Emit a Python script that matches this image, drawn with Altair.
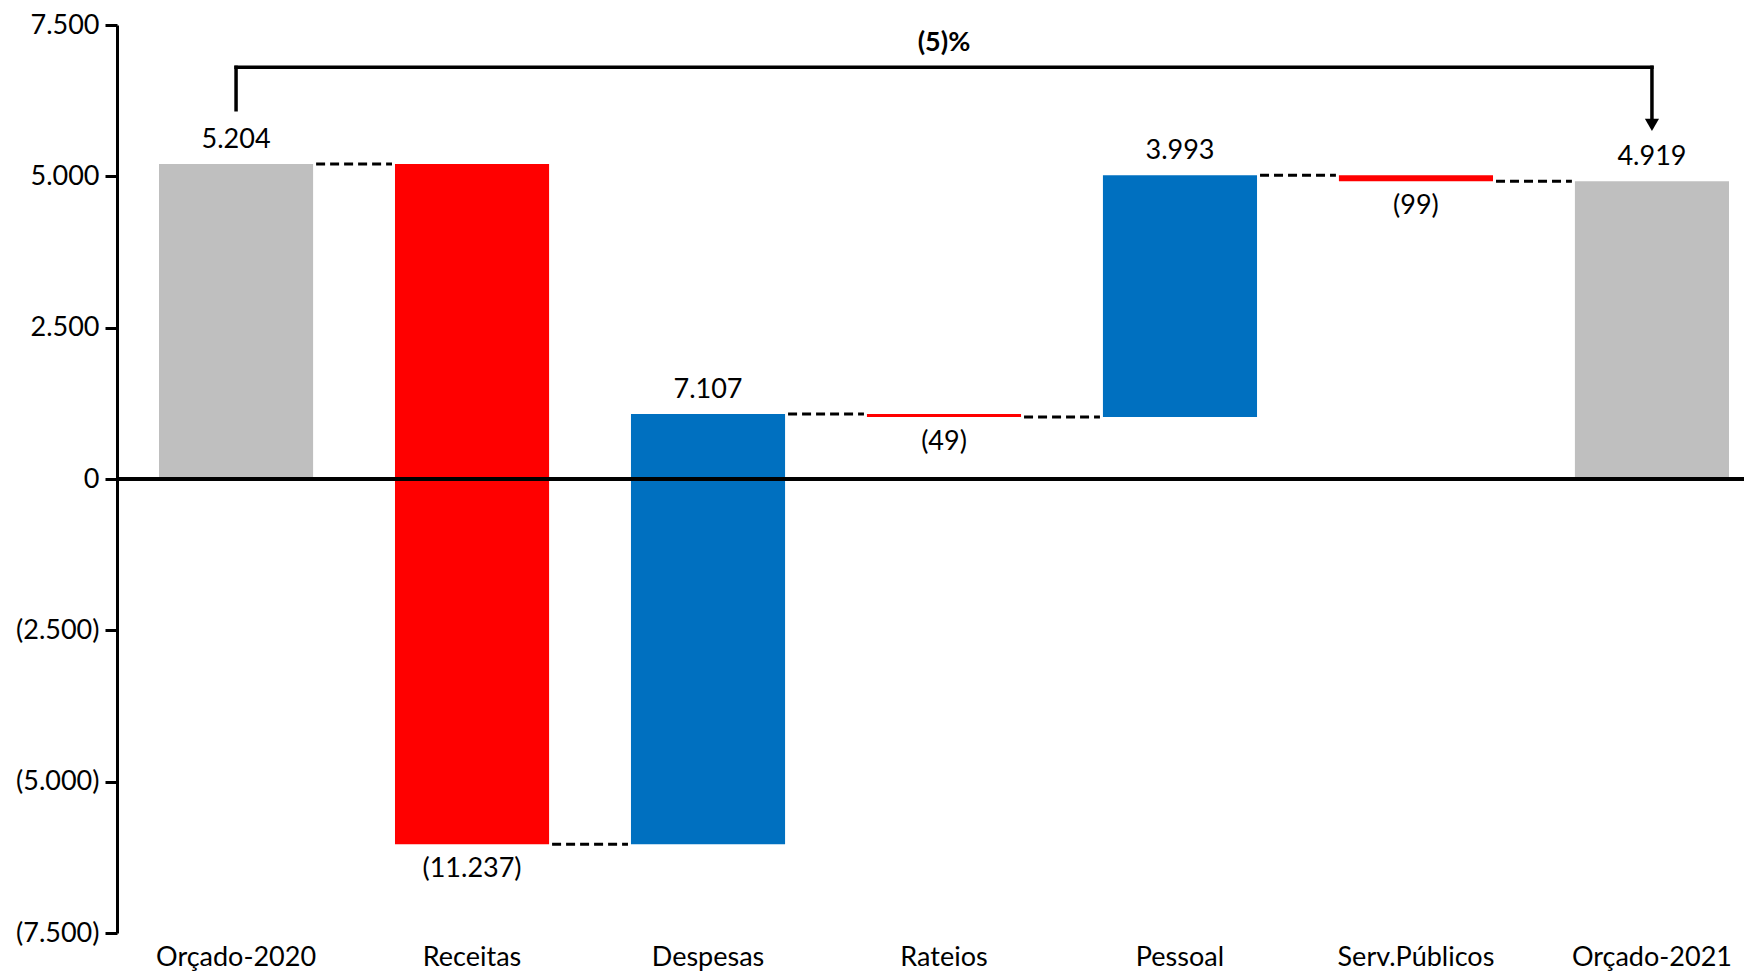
import altair as alt
import pandas as pd

# ---- data ----
categories = ["Orçado-2020", "Receitas", "Despesas", "Rateios", "Pessoal", "Serv.Públicos", "Orçado-2021"]
amounts = [5204, -11237, 7107, -49, 3993, -99, 4919]
kinds = ["total", "delta", "delta", "delta", "delta", "delta", "total"]
y_ticks = [-7500, -5000, -2500, 0, 2500, 5000, 7500]

COLORS = {"total": "#BFBFBF", "pos": "#0070C0", "neg": "#FF0000"}
FONT = "Lato"
FS = 27


def fmt(v):
    s = f"{abs(v):,}".replace(",", ".")
    return f"({s})" if v < 0 else s


rows = []
running = 0
for c, a, k in zip(categories, amounts, kinds):
    if k == "total":
        start, end = 0, a
        kind = "total"
    else:
        start, end = running, running + a
        kind = "pos" if a > 0 else "neg"
    running = end
    rows.append(dict(cat=c, start=start, end=end, label=fmt(a), kind=kind,
                     above=(a >= 0)))
bars = pd.DataFrame(rows)

conn = pd.DataFrame({
    "cat": categories[:-1],
    "nxt": categories[1:],
    "level": [r["end"] for r in rows[:-1]],
})

pct = round((amounts[-1] - amounts[0]) / amounts[0] * 100)
pct_label = f"({abs(pct)})%" if pct < 0 else f"{pct}%"

bracket_top = 6800
bracket = pd.DataFrame({
    "a": [categories[0], categories[0], categories[-1]],
    "b": [categories[0], categories[-1], categories[-1]],
    "y1": [6100, bracket_top, bracket_top],
    "y2": [bracket_top, bracket_top, 5870],
})
arrow = pd.DataFrame({"cat": [categories[-1]], "y": [5850]})
pct_df = pd.DataFrame({"cat": [categories[3]], "y": [7195], "label": [pct_label]})

xscale = alt.Scale(domain=categories, range=[0, 1654], paddingInner=0.347, paddingOuter=0.178)
yscale = alt.Scale(domain=[-7500, 7500], nice=False, zero=False)

x_axis = alt.Axis(title=None, labelAngle=0, domain=False, ticks=False, labelPadding=11,
                  labelFontSize=FS, labelFont=FONT, labelColor="black")
y_axis = alt.Axis(title=None, values=y_ticks, grid=False, domainColor="black", domainWidth=3,
                  tickColor="black", tickWidth=3, tickSize=12, labelPadding=6,
                  labelFontSize=FS, labelFont=FONT, labelColor="black",
                  labelExpr="datum.value < 0 ? '(' + replace(format(-datum.value, ','), ',', '.') + ')' : replace(format(datum.value, ','), ',', '.')")

base = alt.Chart(bars)

bar_layer = base.mark_bar().encode(
    x=alt.X("cat:N", scale=xscale, axis=x_axis, sort=categories),
    y=alt.Y("start:Q", scale=yscale, axis=y_axis),
    y2="end:Q",
    color=alt.Color("kind:N", scale=alt.Scale(domain=list(COLORS.keys()), range=list(COLORS.values())), legend=None),
)

conn_layer = alt.Chart(conn).mark_rule(color="black", strokeWidth=3, strokeDash=[9, 5],
                                       xOffset=3, x2Offset=-3).encode(
    x=alt.X("cat:N", bandPosition=1),
    x2=alt.X2("nxt:N", bandPosition=0),
    y="level:Q",
)

zero_layer = alt.Chart(bars).mark_rule(color="black", strokeWidth=3).encode(y=alt.datum(0))

lab_up = base.transform_filter("datum.above").mark_text(
    baseline="middle", dy=-24, fontSize=FS, font=FONT, color="black"
).encode(x=alt.X("cat:N", bandPosition=0.5), y="end:Q", text="label:N")

lab_dn = base.transform_filter("!datum.above").mark_text(
    baseline="middle", dy=25, fontSize=FS, font=FONT, color="black"
).encode(x=alt.X("cat:N", bandPosition=0.5), y="end:Q", text="label:N")

bracket_layer = alt.Chart(bracket).mark_rule(color="black", strokeWidth=3.5, strokeCap="square").encode(
    x=alt.X("a:N", bandPosition=0.5),
    x2=alt.X2("b:N", bandPosition=0.5),
    y="y1:Q",
    y2="y2:Q",
)

arrow_layer = alt.Chart(arrow).mark_point(shape="triangle-down", filled=True, color="black",
                                          size=200, opacity=1).encode(
    x=alt.X("cat:N", bandPosition=0.5), y="y:Q")

pct_layer = alt.Chart(pct_df).mark_text(baseline="middle", fontSize=FS, font=FONT,
                                        fontWeight="bold", color="black").encode(
    x=alt.X("cat:N", bandPosition=0.5), y="y:Q", text="label:N")

chart = alt.layer(
    bar_layer, conn_layer, zero_layer, lab_up, lab_dn, bracket_layer, arrow_layer, pct_layer
).properties(
    width=1627, height=908,
    padding={"left": 109, "top": 17, "right": 0, "bottom": 48},
    autosize=alt.AutoSizeParams(type="none"),
    background="white",
).configure_view(stroke=None)

chart.save("out.html", embed_options={"renderer": "svg", "actions": False})
